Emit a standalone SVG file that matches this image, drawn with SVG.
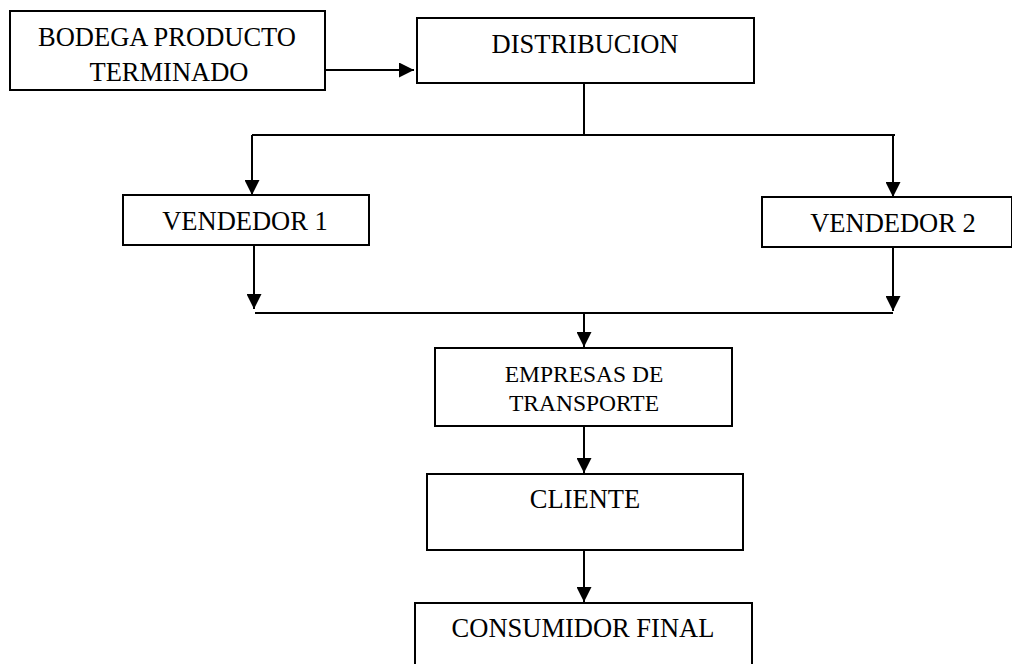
<svg xmlns="http://www.w3.org/2000/svg" width="1012" height="664" viewBox="0 0 1012 664">
  <style>
    .box { fill: #ffffff; stroke: #000000; stroke-width: 2; }
    .lbl { font-family: "Liberation Serif", "Times New Roman", serif; font-size: 26.5px; fill: #000000; text-anchor: middle; }
    .sm { font-size: 23.5px; }
    .wire { fill: none; stroke: #000000; stroke-width: 2; }
  </style>
  <defs>
    <marker id="arrow" viewBox="0 0 10 10" refX="10" refY="5" markerWidth="15" markerHeight="15" markerUnits="userSpaceOnUse" orient="auto">
      <path d="M0,0 L10,5 L0,10 Z" fill="#000000"/>
    </marker>
  </defs>
  <rect width="1012" height="664" fill="#ffffff"/>

  <!-- connectors -->
  <g id="connectors">
    <line class="wire" x1="325" y1="70" x2="414" y2="70" marker-end="url(#arrow)"/>
    <line class="wire" x1="584" y1="83" x2="584" y2="135"/>
    <line class="wire" x1="252" y1="135" x2="895" y2="135"/>
    <line class="wire" x1="252" y1="135" x2="252" y2="195" marker-end="url(#arrow)"/>
    <line class="wire" x1="893" y1="135" x2="893" y2="197" marker-end="url(#arrow)"/>
    <line class="wire" x1="254" y1="245" x2="254" y2="309" marker-end="url(#arrow)"/>
    <line class="wire" x1="893" y1="247" x2="893" y2="311" marker-end="url(#arrow)"/>
    <line class="wire" x1="255" y1="313" x2="893" y2="313"/>
    <line class="wire" x1="584" y1="313" x2="584" y2="347" marker-end="url(#arrow)"/>
    <line class="wire" x1="584" y1="426" x2="584" y2="473" marker-end="url(#arrow)"/>
    <line class="wire" x1="584" y1="550" x2="584" y2="602" marker-end="url(#arrow)"/>
  </g>

  <g id="bodega">
    <rect class="box" x="10" y="11" width="315" height="79"/>
    <text class="lbl" x="167" y="46">BODEGA PRODUCTO</text>
    <text class="lbl" x="169" y="81">TERMINADO</text>
  </g>

  <g id="distribucion">
    <rect class="box" x="417" y="18" width="337" height="65"/>
    <text class="lbl" x="585" y="53">DISTRIBUCION</text>
  </g>

  <g id="vendedor1">
    <rect class="box" x="123" y="195" width="246" height="50"/>
    <text class="lbl" x="245" y="230">VENDEDOR 1</text>
  </g>

  <g id="vendedor2">
    <rect class="box" x="762" y="197" width="250" height="50"/>
    <text class="lbl" x="893" y="232">VENDEDOR 2</text>
  </g>

  <g id="empresas">
    <rect class="box" x="435" y="348" width="297" height="78"/>
    <text class="lbl sm" x="584" y="382">EMPRESAS DE</text>
    <text class="lbl sm" x="584" y="411">TRANSPORTE</text>
  </g>

  <g id="cliente">
    <rect class="box" x="427" y="474" width="316" height="76"/>
    <text class="lbl" x="585" y="508">CLIENTE</text>
  </g>

  <g id="consumidor">
    <rect class="box" x="415" y="603" width="337" height="64"/>
    <text class="lbl" x="583" y="637">CONSUMIDOR FINAL</text>
  </g>
</svg>
